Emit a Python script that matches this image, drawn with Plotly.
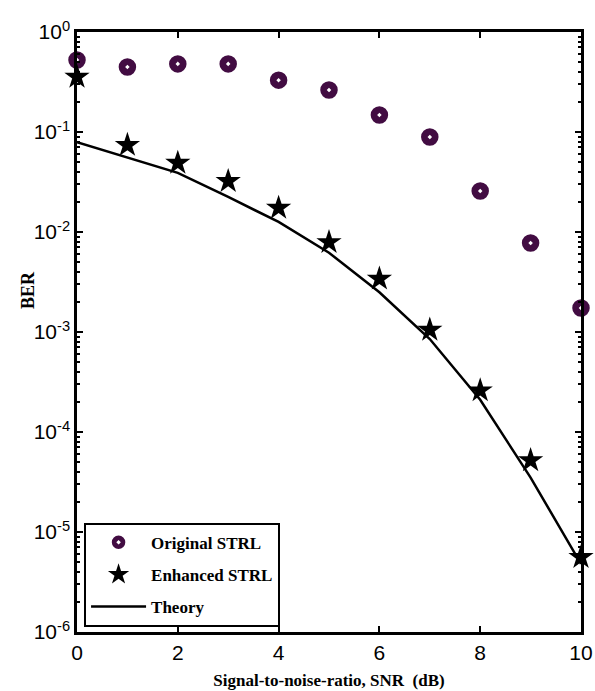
import plotly.graph_objects as go

snr = [0, 1, 2, 3, 4, 5, 6, 7, 8, 9, 10]
ber_original = [0.525, 0.447, 0.48, 0.48, 0.33, 0.263, 0.148, 0.089, 0.0257, 0.00776, 0.00174]
ber_enhanced = [0.355, 0.074, 0.049, 0.0322, 0.0174, 0.0079, 0.0034, 0.00105, 0.00026, 5.2e-5, 5.6e-6]
ber_theory = [0.079, 0.056, 0.039, 0.0224, 0.0126, 0.0062, 0.0025, 0.00085, 0.00021, 3.5e-5, 4.8e-6]

y_tickvals = [1, 1e-1, 1e-2, 1e-3, 1e-4, 1e-5, 1e-6]
y_ticktext = ["10<sup>0</sup>", "10<sup>-1</sup>", "10<sup>-2</sup>", "10<sup>-3</sup>",
              "10<sup>-4</sup>", "10<sup>-5</sup>", "10<sup>-6</sup>"]
x_tickvals = [0, 2, 4, 6, 8, 10]
y_minor_vals = [m * 10.0 ** e for e in range(-6, 0) for m in range(2, 10)]

purple = "#420c42"
serif = "Liberation Serif, Times New Roman, serif"
sans = "Liberation Sans, Arial, sans-serif"

fig = go.Figure()
fig.add_trace(go.Scatter(
    x=snr, y=ber_original, mode="markers", name="<b>Original STRL</b>",
    legendgroup="a",
    marker=dict(symbol="circle-dot", size=20, color=purple,
                line=dict(color="white", width=2.5)),
    cliponaxis=False))
fig.add_trace(go.Scatter(
    x=snr, y=ber_enhanced, mode="markers", name="<b>Enhanced STRL</b>",
    legendgroup="b",
    marker=dict(symbol="star", size=19, color="black", line=dict(width=0)),
    cliponaxis=False))
fig.add_trace(go.Scatter(
    x=snr, y=ber_theory, mode="lines", name="<b>Theory</b>",
    legendgroup="c",
    line=dict(color="black", width=2.5)))

fig.update_layout(
    width=595, height=691,
    margin=dict(l=77, r=14, t=32, b=59, autoexpand=False),
    paper_bgcolor="white", plot_bgcolor="white",
    showlegend=True,
    legend=dict(x=0.014, y=0.182, xanchor="left", yanchor="top",
                bgcolor="white", bordercolor="black", borderwidth=2,
                font=dict(family=serif, size=17, color="black"),
                itemwidth=55, tracegroupgap=7, traceorder="grouped"),
    annotations=[dict(text="<b>BER</b>", xref="paper", yref="paper",
                      x=-0.097, y=0.57, xanchor="center", yanchor="middle",
                      textangle=-90, showarrow=False,
                      font=dict(family=serif, size=18, color="black"))],
)
fig.update_xaxes(
    range=[0, 10], tickvals=x_tickvals, ticks="inside", ticklen=6, tickwidth=2,
    tickcolor="black", showline=True, linecolor="black", linewidth=2.5, mirror="ticks",
    showgrid=False, zeroline=False, automargin=False,
    tickfont=dict(family=sans, size=21, color="black"),
    title=dict(text="<b>Signal-to-noise-ratio, SNR  (dB)</b>", standoff=12,
               font=dict(family=serif, size=17, color="black")))
fig.update_yaxes(
    type="log", range=[-6, 0], tickvals=y_tickvals, ticktext=y_ticktext,
    ticks="inside", ticklen=6, tickwidth=2, tickcolor="black",
    showline=True, linecolor="black", linewidth=2.5, mirror="ticks",
    showgrid=False, zeroline=False, automargin=False,
    minor=dict(tickmode="array", tickvals=y_minor_vals, ticks="inside", ticklen=3,
               tickcolor="black", tickwidth=1.5, showgrid=False),
    tickfont=dict(family=sans, size=21, color="black"))

fig.write_html("out.html")
